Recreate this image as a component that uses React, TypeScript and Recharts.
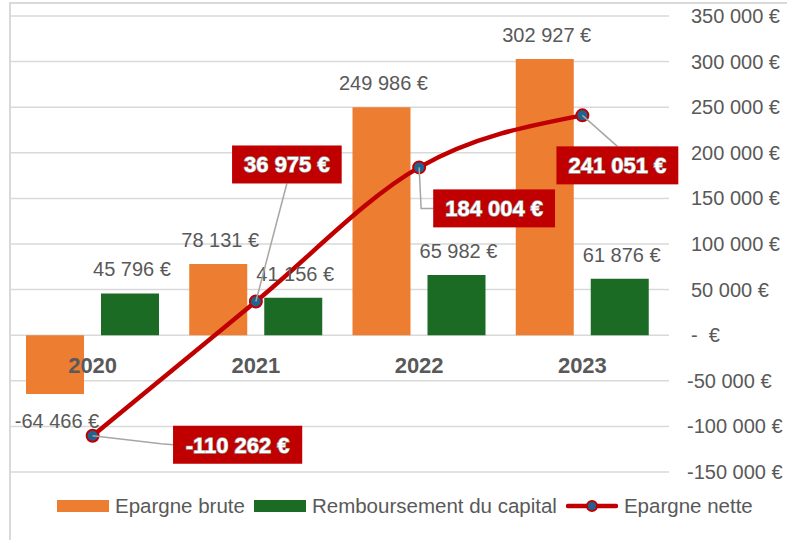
import React from "react";
import { Bar, CartesianGrid, ComposedChart, LabelList, Legend, Line, XAxis, YAxis } from "recharts";

const years = ["2020", "2021", "2022", "2023"];
const epargneBrute = [-64466, 78131, 249986, 302927];
const remboursementCapital = [45796, 41156, 65982, 61876];
const epargneNette = [-110262, 36975, 184004, 241051];
const baseline = [0, 0, 0, 0];
const yTicks = [-150000, -100000, -50000, 0, 50000, 100000, 150000, 200000, 250000, 300000, 350000];

const data = years.map((year, i) => ({
  year,
  brute: epargneBrute[i],
  capital: remboursementCapital[i],
  nette: epargneNette[i],
  zero: baseline[i],
}));

// where each red label box sits relative to its point, and how the leader runs
const netLabelPlacement = [
  { dx: 145, dy: 9, leader: "left" },
  { dx: 31, dy: -137, leader: "bottom" },
  { dx: 75, dy: 41, leader: "elbow" },
  { dx: 35, dy: 50, leader: "top" },
];

const ORANGE = "#ED7D31";
const GREEN = "#1B6B25";
const RED = "#C00000";
const DOT = "#1F6391";
const GREY_TEXT = "#595959";
const FONT = "'Liberation Sans', Arial, sans-serif";

const euro = (n: number) => {
  if (n === 0) return "-  €";
  const s = Math.abs(n).toString().replace(/\B(?=(\d{3})+(?!\d))/g, " ");
  return `${n < 0 ? "-" : ""}${s} €`;
};

const textWidth = (s: string, size: number) => {
  let w = 0;
  for (const c of s) {
    if (c === " ") w += 0.278;
    else if (c === "-") w += 0.333;
    else w += 0.556;
  }
  return w * size;
};

const YTick = (props: any) => {
  const { x, y, payload } = props;
  const v = payload.value as number;
  return (
    <text
      x={x + (v < 0 ? 16 : 20)}
      y={y}
      dy={7}
      textAnchor="start"
      fill={GREY_TEXT}
      fontSize={20}
      fontFamily={FONT}
      style={{ whiteSpace: "pre" }}
    >
      {euro(v)}
    </text>
  );
};

const BarValue = (props: any) => {
  const { x, y, width, height, value } = props;
  const top = Math.min(y, y + height);
  const bottom = Math.max(y, y + height);
  const ty = value >= 0 ? top - 17 : bottom + 34;
  return (
    <text x={x + width / 2 + 2} y={ty} textAnchor="middle" fill={GREY_TEXT} fontSize={20} fontFamily={FONT}>
      {euro(value)}
    </text>
  );
};

const NetLabel = (props: any) => {
  const { x, y, value, index } = props;
  const p = netLabelPlacement[index];
  const label = euro(value);
  const w = textWidth(label, 22) + 24;
  const h = 38;
  const cx = x + p.dx;
  const cy = y + p.dy;
  const left = cx - w / 2;
  let pts = "";
  if (p.leader === "left") pts = `${x},${y} ${left - 12},${cy - 1} ${left},${cy}`;
  else if (p.leader === "bottom") pts = `${x},${y} ${cx},${cy + h / 2}`;
  else if (p.leader === "top") pts = `${x},${y} ${cx},${cy - h / 2}`;
  else pts = `${x},${y} ${x + 2},${cy} ${left},${cy}`;
  return (
    <g>
      <polyline points={pts} fill="none" stroke="#A6A6A6" strokeWidth={1.5} />
      <rect x={left} y={cy - h / 2} width={w} height={h} fill={RED} />
      <text
        x={cx}
        y={cy + 8}
        textAnchor="middle"
        fill="#FFFFFF"
        fontSize={22}
        fontWeight="bold"
        fontFamily={FONT}
        stroke="#9E9E9E"
        strokeWidth={1.4}
        style={{ paintOrder: "stroke" }}
      >
        {label}
      </text>
    </g>
  );
};

const YearLabel = (props: any) => {
  const { x, y, value } = props;
  return (
    <text x={x} y={y + 38} textAnchor="middle" fill={GREY_TEXT} fontSize={22} fontWeight="bold" fontFamily={FONT}>
      {value}
    </text>
  );
};

const legendItems = [
  { name: "Epargne brute", kind: "bar", color: ORANGE },
  { name: "Remboursement du capital", kind: "bar", color: GREEN },
  { name: "Epargne nette", kind: "line", color: RED },
];

const LegendContent = () => (
  <div style={{ display: "flex", alignItems: "center", marginLeft: 57, fontFamily: FONT, fontSize: 20.5, color: GREY_TEXT }}>
    {legendItems.map((it) => (
      <div key={it.name} style={{ display: "flex", alignItems: "center", marginRight: 9 }}>
        {it.kind === "bar" ? (
          <div style={{ width: 52, height: 12, background: it.color, marginRight: 6 }} />
        ) : (
          <svg width={52} height={14} style={{ marginRight: 6 }}>
            <line x1={2} y1={7} x2={50} y2={7} stroke={RED} strokeWidth={4.5} strokeLinecap="round" />
            <circle cx={26} cy={7} r={5} fill={DOT} stroke={RED} strokeWidth={2} />
          </svg>
        )}
        <span>{it.name}</span>
      </div>
    ))}
  </div>
);

export default function App() {
  return (
    <div style={{ position: "absolute", left: 0, top: 0, width: 787, height: 540, background: "#fff" }}>
      <div
        style={{
          position: "absolute",
          left: 9,
          top: 2,
          width: 778,
          height: 538,
          borderLeft: "2px solid #D9D9D9",
          borderTop: "2px solid #D9D9D9",
        }}
      />
      <ComposedChart
        width={787}
        height={540}
        data={data}
        margin={{ top: 16, right: 0, left: 11, bottom: 68 }}
        barSize={58}
        barGap={17}
        style={{ position: "absolute", left: 0, top: 0 }}
      >
        <CartesianGrid vertical={false} stroke="#D9D9D9" strokeWidth={1.5} />
        <XAxis dataKey="year" hide />
        <YAxis
          orientation="right"
          width={123}
          domain={[-150000, 350000]}
          ticks={yTicks}
          interval={0}
          axisLine={false}
          tickLine={{ stroke: "#D9D9D9", strokeWidth: 1.5 }}
          tickSize={5}
          tick={<YTick />}
        />
        <Legend verticalAlign="middle" wrapperStyle={{ top: 494, left: 0, width: 787 }} content={<LegendContent />} />
        <Bar dataKey="brute" name="Epargne brute" fill={ORANGE} isAnimationActive={false}>
          <LabelList dataKey="brute" content={<BarValue />} />
        </Bar>
        <Bar dataKey="capital" name="Remboursement du capital" fill={GREEN} isAnimationActive={false}>
          <LabelList dataKey="capital" content={<BarValue />} />
        </Bar>
        <Line
          dataKey="zero"
          stroke="none"
          dot={false}
          activeDot={false}
          legendType="none"
          isAnimationActive={false}
        >
          <LabelList dataKey="year" content={<YearLabel />} />
        </Line>
        <Line
          type="monotone"
          dataKey="nette"
          name="Epargne nette"
          stroke={RED}
          strokeWidth={4.5}
          dot={{ r: 6, fill: DOT, stroke: RED, strokeWidth: 2 }}
          isAnimationActive={false}
        >
          <LabelList dataKey="nette" content={<NetLabel />} />
        </Line>
      </ComposedChart>
    </div>
  );
}
